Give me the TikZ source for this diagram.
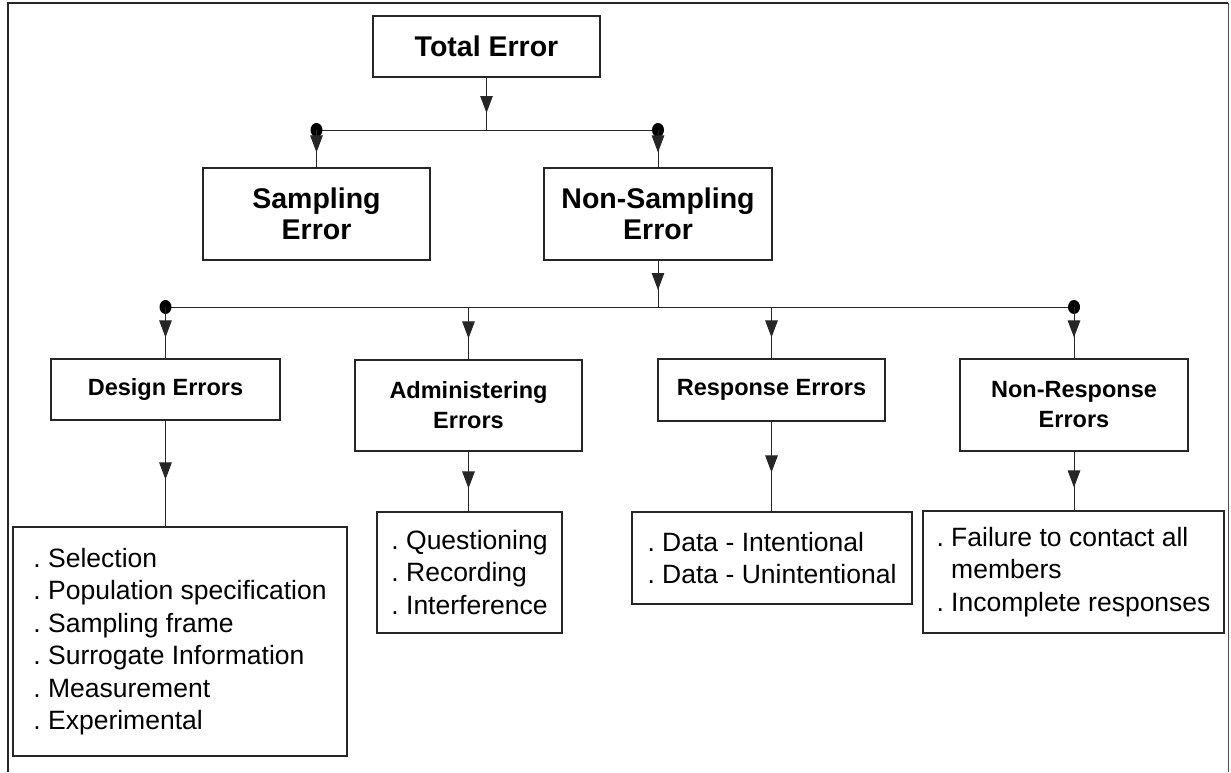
\documentclass[tikz,border=0pt]{standalone}
\usepackage{fontspec}
\setmainfont{Liberation Sans}
\usetikzlibrary{arrows.meta,decorations.markings}
\begin{document}
\frenchspacing
\begin{tikzpicture}[x=1pt,y=-1pt,
  box/.style={draw=black!85, line width=1.1pt, rectangle, inner sep=0pt, align=center},
  lvltop/.style={box, font=\fontsize{28.5}{31}\selectfont\bfseries},
  lvlmid/.style={box, font=\fontsize{23.5}{30}\selectfont\bfseries},
  lst/.style={box, font=\fontsize{26.5}{32.5}\selectfont, align=left},
  conn/.style={draw=black!85, line width=1pt},
  arr/.style={conn, postaction={decorate},
    decoration={markings, mark=at position #1 with {\arrow{Triangle[length=17pt,width=12.5pt]}}}},
  dot/.style={fill=black}
]
\useasboundingbox (0,0) rectangle (1231,772);
% outer frame
\draw[line width=2.2pt, black!85] (8,772) -- (8,3) -- (1228,3);
\draw[line width=1pt, black!70] (1228,3) -- (1228,772);

% nodes
\node[lvltop, minimum width=227, minimum height=61] (total) at (486.5,46.5) {Total Error};
\node[lvltop, minimum width=227, minimum height=92] (samp) at (316.5,214) {Sampling\\Error};
\node[lvltop, minimum width=228, minimum height=92] (nonsamp) at (658,214) {Non-Sampling\\Error};

\node[lvlmid, minimum width=229, minimum height=61] (design) at (165.5,389.5) {Design Errors};
\node[lvlmid, minimum width=227, minimum height=91] (admin) at (468.5,405.5) {Administering\\Errors};
\node[lvlmid, minimum width=227, minimum height=62] (resp) at (771.5,390) {Response Errors};
\node[lvlmid, minimum width=228, minimum height=92] (nonresp) at (1074,405) {Non-Response\\Errors};

\node[lst, minimum width=334, minimum height=229] (designlist) at (180,641.5)
  {. Selection\\. Population specification\\. Sampling frame\\. Surrogate Information\\. Measurement\\. Experimental};
\node[lst, minimum width=185, minimum height=121] (adminlist) at (469.5,572.5)
  {. Questioning\\. Recording\\. Interference};
\node[lst, minimum width=280, minimum height=92] (resplist) at (772,558)
  {. Data - Intentional\\. Data - Unintentional};
\node[lst, minimum width=301, minimum height=122] (nonresplist) at (1073.5,572)
  {. Failure to contact all\\\phantom{. }members\\. Incomplete responses};

% junctions level 1
\coordinate (j1) at (486.5,130);
\coordinate (s1) at (316.5,130);
\coordinate (s2) at (658,130);
\draw[arr=-17pt] (total.south) -- (j1);
\draw[conn] (s1) -- (s2);
\fill[dot] (s1) ellipse (6 and 7);
\fill[dot] (s2) ellipse (6 and 7);
\draw[arr=-15pt] (s1) -- (samp.north);
\draw[arr=-15pt] (s2) -- (nonsamp.north);

% junctions level 2
\coordinate (j2) at (658,307);
\coordinate (t1) at (165.5,307);
\coordinate (t2) at (468.5,307);
\coordinate (t3) at (771.5,307);
\coordinate (t4) at (1074,307);
\draw[arr=-17pt] (nonsamp.south) -- (j2);
\draw[conn] (t1) -- (t4);
\fill[dot] (t1) ellipse (6 and 7);
\fill[dot] (t4) ellipse (6 and 7);
\draw[arr=-21pt] (t1) -- (design.north);
\draw[arr=-21pt] (t2) -- (admin.north);
\draw[arr=-21pt] (t3) -- (resp.north);
\draw[arr=-21pt] (t4) -- (nonresp.north);

% to lists
\draw[arr=-47pt] (design.south) -- (designlist.north -| design.south);
\draw[arr=-23pt] (admin.south) -- (adminlist.north -| admin.south);
\draw[arr=-39pt] (resp.south) -- (resplist.north -| resp.south);
\draw[arr=-23pt] (nonresp.south) -- (nonresplist.north -| nonresp.south);
\end{tikzpicture}
\end{document}
